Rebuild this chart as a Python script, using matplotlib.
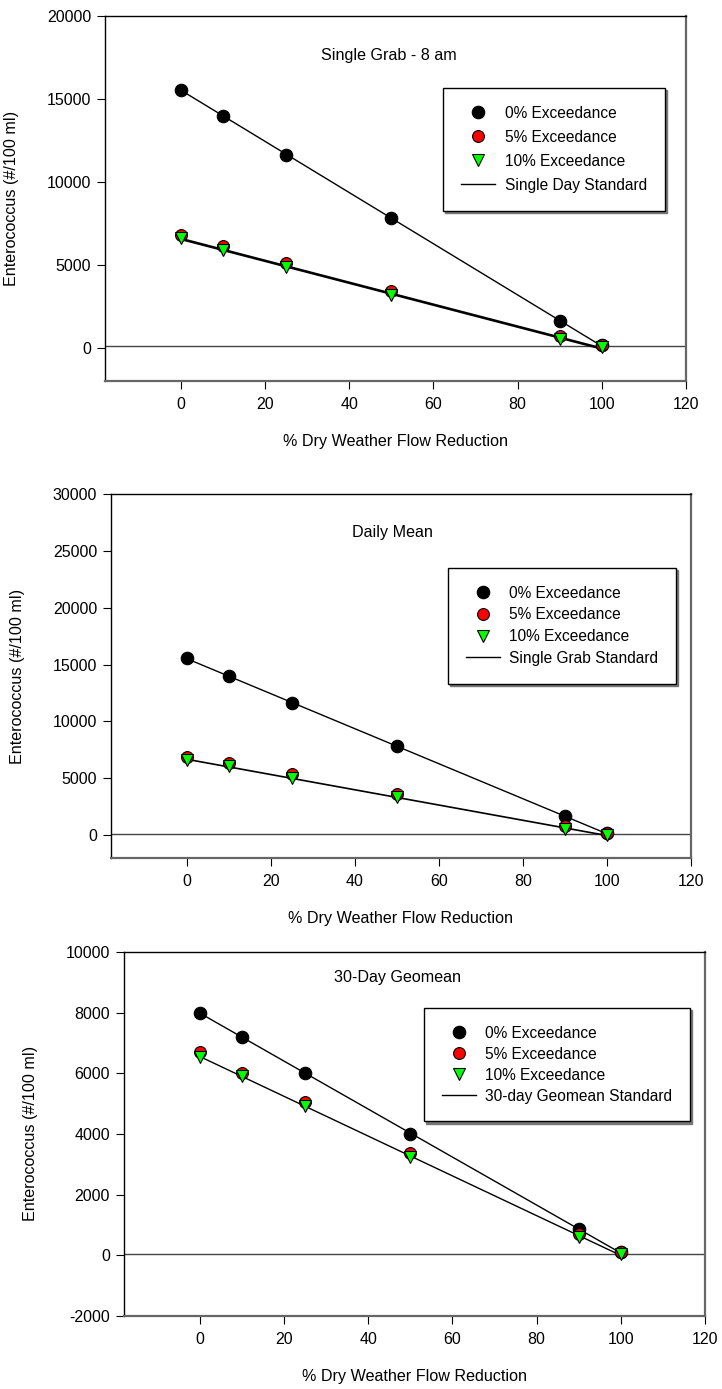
import numpy as np
import matplotlib
matplotlib.use("Agg")
import matplotlib.pyplot as plt

plt.rcParams['font.family'] = ['Liberation Sans', 'DejaVu Sans']
plt.rcParams['font.size'] = 11.5
plt.rcParams['axes.unicode_minus'] = False

# data
x_pct = [0, 10, 25, 50, 90, 100]

grab_0 = [15550, 14000, 11650, 7800, 1600, 160]
grab_5 = [6800, 6150, 5130, 3450, 700, 150]
grab_10 = [6600, 5920, 4900, 3200, 550, 50]

mean_0 = [15550, 14000, 11650, 7800, 1650, 170]
mean_5 = [6900, 6350, 5350, 3650, 800, 200]
mean_10 = [6650, 6050, 5000, 3330, 550, 50]

geo_0 = [8000, 7190, 6000, 4010, 850, 100]
geo_5 = [6700, 6010, 5040, 3370, 690, 120]
geo_10 = [6550, 5910, 4920, 3250, 600, 50]

series_labels = ['0% Exceedance', '5% Exceedance', '10% Exceedance']
x_ticks = [0, 20, 40, 60, 80, 100, 120]

panels = [
    dict(title='Single Grab - 8 am', std=104, std_label='Single Day Standard',
         data=[grab_0, grab_5, grab_10], fit_lw=[1, 1.9],
         ylim=(-2000, 20000), yticks=[0, 5000, 10000, 15000, 20000],
         rect=[0.1454, 0.7257, 0.8047, 0.2628], title_xy=(0.489, 0.893),
         leg_xy=(0.582, 0.803), leg_space=0.58),
    dict(title='Daily Mean', std=104, std_label='Single Grab Standard',
         data=[mean_0, mean_5, mean_10], fit_lw=[1, 1.2],
         ylim=(-2000, 30000), yticks=[0, 5000, 10000, 15000, 20000, 25000, 30000],
         rect=[0.1537, 0.3823, 0.8033, 0.2621], title_xy=(0.486, 0.893),
         leg_xy=(0.581, 0.797), leg_space=0.43),
    dict(title='30-Day Geomean', std=35, std_label='30-day Geomean Standard',
         data=[geo_0, geo_5, geo_10], fit_lw=[1, 1],
         ylim=(-2000, 10000), yticks=[-2000, 0, 2000, 4000, 6000, 8000, 10000],
         rect=[0.1717, 0.0526, 0.8047, 0.2621], title_xy=(0.47, 0.931),
         leg_xy=(0.516, 0.846), leg_space=0.38),
]

marker_styles = [
    dict(marker='o', color='black', ms=9, mec='black'),
    dict(marker='o', color='#ff0000', ms=8.5, mec='black'),
    dict(marker='v', color='#00ff00', ms=9, mec='black'),
]

fig = plt.figure(figsize=(7.22, 13.89), dpi=100)

for p in panels:
    ax = fig.add_axes(p['rect'])
    xs = np.array(x_pct)

    # regression lines (0% and 10%) behind the markers
    for i, lw in zip([0, 2], p['fit_lw']):
        k, b = np.polyfit(xs, p['data'][i], 1)
        ax.plot([0, 100], [b, k * 100 + b], color='black', lw=lw, zorder=2)

    ax.axhline(p['std'], color='#444444', lw=1, zorder=1)

    handles = []
    for vals, st, lab in zip(p['data'], marker_styles, series_labels):
        h, = ax.plot(x_pct, vals, ls='none', marker=st['marker'], ms=st['ms'],
                     mfc=st['color'], mec=st['mec'], mew=0.8, zorder=3, label=lab)
        handles.append(h)
    std_handle, = ax.plot([], [], color='black', lw=1, label=p['std_label'])
    handles.append(std_handle)

    ax.set_xlim(-18, 120)
    ax.set_ylim(*p['ylim'])
    ax.set_xticks(x_ticks)
    ax.set_yticks(p['yticks'])
    ax.tick_params(axis='x', direction='out', length=6, pad=5.5, labelsize=11.5,
                   top=False)
    ax.tick_params(axis='y', direction='out', length=6, pad=4, labelsize=11.5,
                   right=False)

    for side in ['left', 'top']:
        ax.spines[side].set_color('black')
        ax.spines[side].set_linewidth(1)
    for side in ['right', 'bottom']:
        ax.spines[side].set_color('#666666')
        ax.spines[side].set_linewidth(1.6)

    ax.set_xlabel('% Dry Weather Flow Reduction', fontsize=11.6, labelpad=16)
    ax.set_ylabel('Enterococcus (#/100 ml)', fontsize=11.6)
    ax.yaxis.set_label_coords(-0.148, 0.5)

    ax.text(p['title_xy'][0], p['title_xy'][1], p['title'], transform=ax.transAxes,
            ha='center', va='center', fontsize=11.6)

    leg = ax.legend(handles=handles, loc='upper left', bbox_to_anchor=p['leg_xy'],
                    borderaxespad=0, frameon=True, fancybox=False, fontsize=11.2,
                    borderpad=1.15, labelspacing=p['leg_space'], handlelength=2.2,
                    handletextpad=0.6, numpoints=1,
                    shadow={'ox': 1.5, 'oy': -1.5, 'color': '#777777', 'alpha': 1})
    leg.get_frame().set_edgecolor('black')
    leg.get_frame().set_linewidth(1)
    leg.get_frame().set_alpha(1)

fig.savefig('out.png', dpi=100, facecolor='white')
